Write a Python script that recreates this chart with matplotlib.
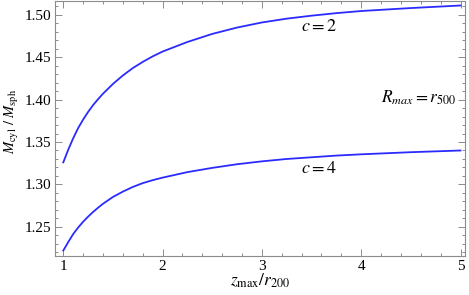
import matplotlib
matplotlib.use("Agg")
import matplotlib.pyplot as plt
from matplotlib.ticker import MultipleLocator

plt.rcParams['font.family'] = ['Liberation Serif', 'DejaVu Serif']
plt.rcParams['mathtext.fontset'] = 'stix'

# values
z_ratio = [1.0, 1.05, 1.1, 1.15, 1.2, 1.25, 1.3, 1.35, 1.4, 1.5, 1.6, 1.7, 1.8, 1.9,
           2.0, 2.25, 2.5, 2.75, 3.0, 3.25, 3.5, 3.75, 4.0, 4.5, 5.0]
ratio_c2 = [1.326, 1.341, 1.3545, 1.3665, 1.3765, 1.3855, 1.3935, 1.4005, 1.407, 1.4185,
            1.4285, 1.4372, 1.4445, 1.451, 1.4567, 1.468, 1.4775, 1.485, 1.491, 1.4955,
            1.499, 1.502, 1.5045, 1.508, 1.511]
ratio_c4 = [1.222, 1.232, 1.2415, 1.2492, 1.256, 1.262, 1.2675, 1.2725, 1.2772, 1.2852,
            1.2915, 1.297, 1.3015, 1.305, 1.308, 1.3145, 1.3195, 1.3238, 1.3272, 1.330,
            1.332, 1.334, 1.3355, 1.338, 1.340]

gray = '#8c8c8c'
blue = '#2b2bff'

fig = plt.figure(figsize=(4.69, 2.95), dpi=100)
ax = fig.add_axes([0.118, 0.132, 0.873, 0.866])

ax.plot(z_ratio, ratio_c2, color=blue, lw=1.3)
ax.plot(z_ratio, ratio_c4, color=blue, lw=1.3)

ax.set_xlim(0.92, 5.043)
ax.set_ylim(1.2155, 1.5168)

ax.xaxis.set_major_locator(MultipleLocator(1))
ax.xaxis.set_minor_locator(MultipleLocator(0.2))
ax.yaxis.set_major_locator(MultipleLocator(0.05))
ax.yaxis.set_minor_locator(MultipleLocator(0.01))
ax.yaxis.set_major_formatter(plt.FormatStrFormatter('%.2f'))

for s in ax.spines.values():
    s.set_color(gray)
    s.set_linewidth(0.8)
ax.tick_params(which='both', direction='in', top=True, right=True, color=gray,
               labelsize=11, labelcolor='black', width=0.7)
ax.tick_params(which='major', length=5, pad=3)
ax.tick_params(which='minor', length=2.5)

ax.text(3.58, 1.4808, r'$c = 2$', fontsize=13, ha='center', va='baseline')
ax.text(3.58, 1.3129, r'$c = 4$', fontsize=13, ha='center', va='baseline')
ax.text(4.963, 1.3968, r'$R_{max} = r_{500}$', fontsize=12.5, ha='right', va='baseline')

ax.set_xlabel(r'$z_{\rm max}/r_{200}$', fontsize=12.5, labelpad=-1)
ax.set_ylabel(r'$M_{\rm cyl}\ /\ M_{\rm sph}$', fontsize=10.5)
ax.yaxis.set_label_coords(-0.083, 0.528)

fig.savefig('out.png', dpi=100)
